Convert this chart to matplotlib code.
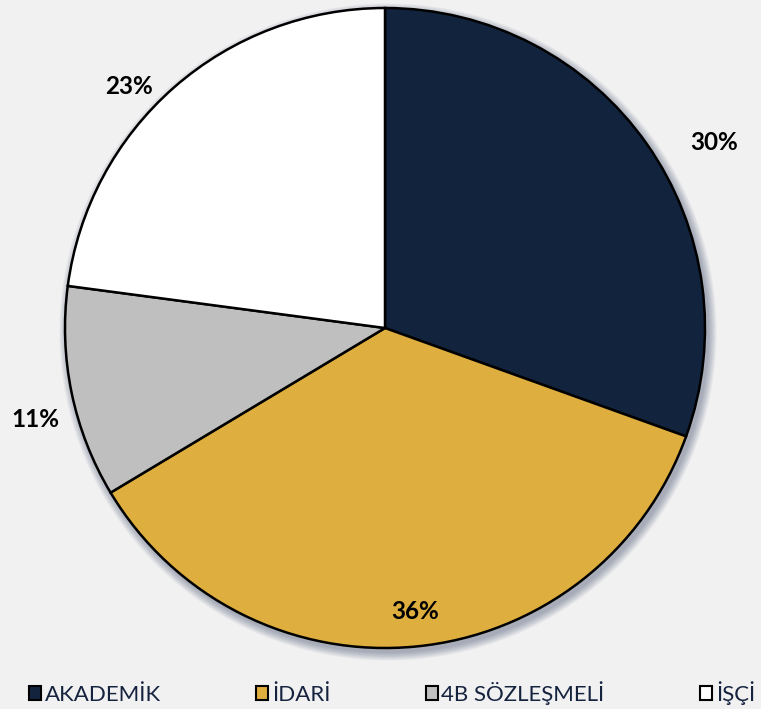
import numpy as np
import matplotlib
matplotlib.use("Agg")
import matplotlib.pyplot as plt
from matplotlib.patches import Circle, Rectangle

categories = ["AKADEMİK", "İDARİ", "4B SÖZLEŞMELİ", "İŞÇİ"]
values = [30.5, 35.9, 10.7, 22.9]
labels = ["30%", "36%", "11%", "23%"]
colors = ["#12243d", "#deae3e", "#bfbfbf", "#ffffff"]
label_dist = [1.18, 0.89, 1.13, 1.10]
label_shift = [-5.7, 0.5, 2.9, 5.5]  # degrees

W, H = 761, 709
fig = plt.figure(figsize=(W / 100, H / 100), dpi=100)
fig.patch.set_facecolor("#f1f1f1")
ax = fig.add_axes([0, 0, 1, 1])
ax.set_facecolor("#f1f1f1")

cx, cy, R = 385, H - 328, 320

# soft shadow
for i in range(12):
    ax.add_patch(Circle((cx + 3, cy - 4), R + 1 + i * 0.7, color="#1a2a50",
                        alpha=0.03, zorder=0, lw=0))

wedges, _ = ax.pie(values, colors=colors, startangle=90, counterclock=False,
                   center=(cx, cy), radius=R, frame=False,
                   wedgeprops=dict(edgecolor="black", linewidth=1.8))
for w in wedges:
    w.set_zorder(2)

for w, lab, d, s in zip(wedges, labels, label_dist, label_shift):
    ang = np.deg2rad((w.theta1 + w.theta2) / 2 + s)
    x = cx + d * R * np.cos(ang)
    y = cy + d * R * np.sin(ang)
    ax.text(x, y, lab, ha="center", va="center", fontsize=17.5,
            fontweight="bold", family="Lato", color="black", zorder=3)

ax.set_xlim(0, W)
ax.set_ylim(0, H)
ax.set_aspect("auto")
ax.axis("off")

handles = [Rectangle((0, 0), 1, 1, facecolor=c, edgecolor="black", lw=1.5)
           for c in colors]
leg = fig.legend(handles, categories, loc="center left", bbox_to_anchor=(29 / W, 1 - 693 / H),
                 ncol=4, frameon=False, handlelength=0.55, handleheight=0.55,
                 handletextpad=0.15, columnspacing=4.3, borderpad=0, borderaxespad=0,
                 prop=dict(family="Lato", size=16))
for t in leg.get_texts():
    t.set_color("#16233f")

fig.savefig("out.png", dpi=100, facecolor=fig.get_facecolor())
